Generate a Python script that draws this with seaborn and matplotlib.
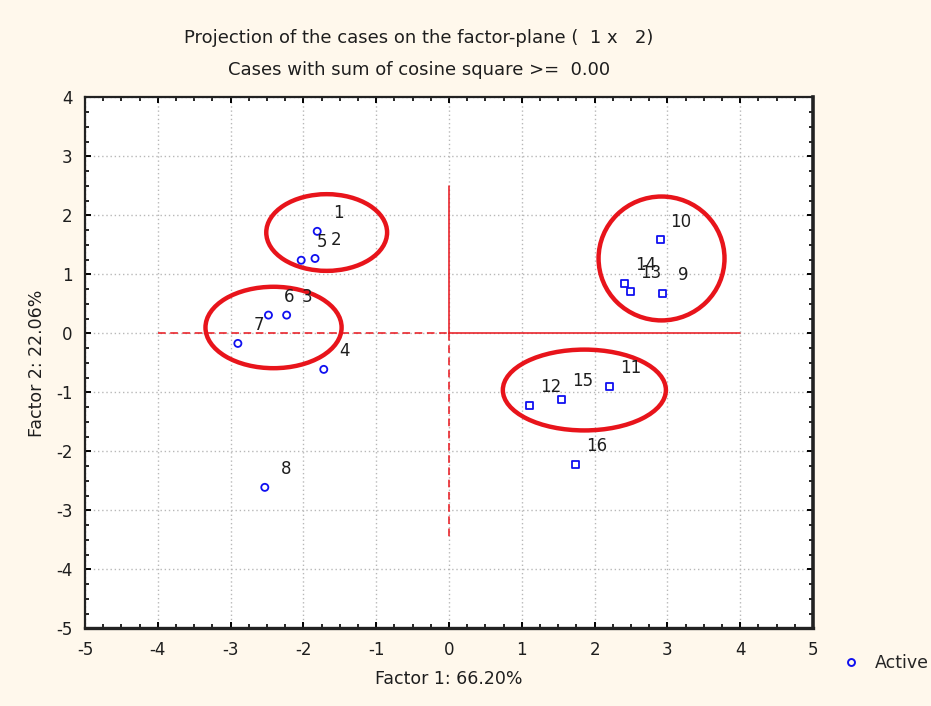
import matplotlib
matplotlib.use("Agg")
import matplotlib.pyplot as plt
from matplotlib.patches import Ellipse
from matplotlib.lines import Line2D
from matplotlib.ticker import MultipleLocator
import seaborn as sns
import pandas as pd

# Case coordinates on factors 1 and 2
case_ids = ["1", "2", "3", "4", "5", "6", "7", "8",
            "9", "10", "11", "12", "13", "14", "15", "16"]
factor1 = [-1.81, -1.84, -2.23, -1.72, -2.03, -2.48, -2.90, -2.53,
           2.93, 2.90, 2.21, 1.11, 2.49, 2.41, 1.55, 1.74]
factor2 = [1.73, 1.27, 0.31, -0.61, 1.24, 0.31, -0.17, -2.61,
           0.68, 1.59, -0.90, -1.22, 0.71, 0.85, -1.12, -2.22]
group = ["A"] * 8 + ["B"] * 8

# Highlighted clusters: centre x, centre y, width, height
cluster_cx = [-1.68, -2.41, 2.92, 1.86]
cluster_cy = [1.71, 0.10, 1.27, -0.96]
cluster_w = [1.66, 1.87, 1.73, 2.24]
cluster_h = [1.30, 1.38, 2.10, 1.37]

df = pd.DataFrame({"case": case_ids, "f1": factor1, "f2": factor2, "group": group})

sns.set_style("white")
plt.rcParams["font.family"] = ["DejaVu Sans"]
plt.rcParams["axes.unicode_minus"] = False

ink = "#1e1e1e"
fig = plt.figure(figsize=(9.31, 7.06), dpi=100, facecolor="#FFF8EC")
ax = fig.add_axes([0.0913, 0.110, 0.7819, 0.752])
ax.set_facecolor("white")

ax.set_xlim(-5, 5)
ax.set_ylim(-5, 4)
ax.xaxis.set_major_locator(MultipleLocator(1))
ax.yaxis.set_major_locator(MultipleLocator(1))
ax.xaxis.set_minor_locator(MultipleLocator(0.25))
ax.yaxis.set_minor_locator(MultipleLocator(0.25))
ax.tick_params(which="both", direction="in", top=True, right=True,
               bottom=True, left=True, color="black")
ax.tick_params(which="major", length=4, width=1.4, labelsize=12,
               pad=9, labelcolor=ink)
ax.tick_params(which="minor", length=3, width=1.2)
ax.grid(True, which="major", color="#b8b8b8", linestyle=(0, (1, 2)), linewidth=1.0)
ax.set_axisbelow(True)
for side in ["left", "bottom", "top", "right"]:
    ax.spines[side].set_visible(True)
    ax.spines[side].set_color("#222222")
    ax.spines[side].set_linewidth(1.6)
ax.spines["right"].set_linewidth(2.6)
ax.spines["bottom"].set_linewidth(2.4)

# Reference axes through the origin
red = "#E8141B"
ax.plot([-4, 0], [0, 0], color=red, linestyle=(0, (5, 3)), linewidth=1.1)
ax.plot([0, 4], [0, 0], color=red, linewidth=1.1)
ax.plot([0, 0], [0, 2.5], color=red, linewidth=1.1)
ax.plot([0, 0], [0, -3.5], color=red, linestyle=(0, (5, 3)), linewidth=1.1)

sns.scatterplot(data=df, x="f1", y="f2", style="group",
                markers={"A": "o", "B": "s"}, s=26, facecolor="none",
                edgecolor="#1010F0", linewidth=1.3, legend=False, ax=ax, zorder=4)

for cid, x, y in zip(case_ids, factor1, factor2):
    ax.annotate(cid, (x, y), xytext=(15, 13), textcoords="offset points",
                ha="center", va="center", fontsize=12, color=ink, zorder=5)

for cx, cy, w, h in zip(cluster_cx, cluster_cy, cluster_w, cluster_h):
    ax.add_patch(Ellipse((cx, cy), w, h, fill=False, edgecolor=red,
                         linewidth=3.2, zorder=3))

ax.set_xlabel("Factor 1: 66.20%", fontsize=12.5, color=ink, labelpad=8)
ax.set_ylabel("Factor 2: 22.06%", fontsize=12.5, color=ink, labelpad=7)

fig.text(0.450, 0.946, "Projection of the cases on the factor-plane (  1 x   2)",
         ha="center", va="center", fontsize=13, color=ink)
fig.text(0.450, 0.901, "Cases with sum of cosine square >=  0.00",
         ha="center", va="center", fontsize=13, color=ink)

handle = Line2D([], [], marker="o", linestyle="none", markersize=5,
                markerfacecolor="none", markeredgecolor="#1010F0", markeredgewidth=1.4)
fig.legend([handle], ["Active"], loc="center left", bbox_to_anchor=(0.895, 0.061),
           frameon=False, fontsize=12.5, handletextpad=0.8, handlelength=1.2,
           borderaxespad=0)

fig.savefig("out.png", dpi=100, facecolor=fig.get_facecolor())
